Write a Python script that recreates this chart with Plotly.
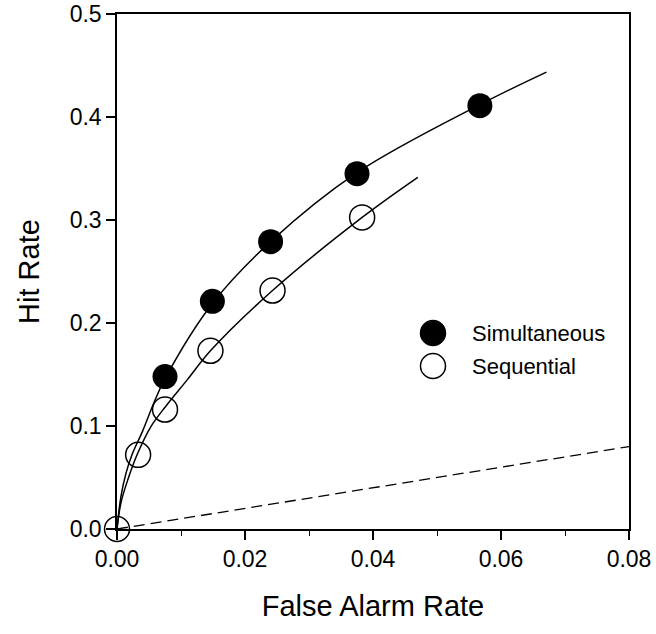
import plotly.graph_objects as go

# Data points
sim_far = [0.0075, 0.0149, 0.0240, 0.0375, 0.0567]
sim_hit = [0.148, 0.221, 0.279, 0.345, 0.411]

seq_far = [0.0, 0.0033, 0.0075, 0.0146, 0.0243, 0.0383]
seq_hit = [0.0, 0.072, 0.116, 0.173, 0.2315, 0.3025]

# Fitted curves
sim_fit_x = [0.0, 0.0006, 0.0014, 0.0024, 0.0040, 0.0058, 0.0075, 0.0149, 0.0240, 0.0375, 0.0567, 0.0671]
sim_fit_y = [0.0, 0.031, 0.054, 0.073, 0.095, 0.123, 0.146, 0.219, 0.279, 0.346, 0.412, 0.4436]

seq_fit_x = [0.0, 0.0006, 0.0017, 0.0032, 0.0053, 0.0076, 0.0110, 0.0146, 0.0243, 0.0383, 0.0470]
seq_fit_y = [0.0, 0.025, 0.048, 0.073, 0.0995, 0.119, 0.145, 0.173, 0.2315, 0.3025, 0.3414]

# Chance line
chance_x = [0.0, 0.08]
chance_y = [0.0, 0.08]

x_ticks = [0.00, 0.02, 0.04, 0.06, 0.08]
y_ticks = [0.0, 0.1, 0.2, 0.3, 0.4, 0.5]

FONT = "Arial, Liberation Sans, sans-serif"

W, H = 656, 634
L, R, T, B = 117, 27, 14, 105
PW, PH = W - L - R, H - T - B

fig = go.Figure()

fig.add_trace(go.Scatter(x=chance_x, y=chance_y, mode="lines",
                         line=dict(color="black", width=1.3, dash="11px,6px"),
                         showlegend=False, hoverinfo="skip"))
fig.add_trace(go.Scatter(x=sim_fit_x, y=sim_fit_y, mode="lines",
                         line=dict(color="black", width=1.5, shape="spline", smoothing=1.0),
                         showlegend=False, hoverinfo="skip"))
fig.add_trace(go.Scatter(x=seq_fit_x, y=seq_fit_y, mode="lines",
                         line=dict(color="black", width=1.5, shape="spline", smoothing=1.0),
                         showlegend=False, hoverinfo="skip"))
fig.add_trace(go.Scatter(x=sim_far, y=sim_hit, mode="markers", name="Simultaneous",
                         marker=dict(symbol="circle", size=25, color="black"),
                         cliponaxis=False, showlegend=False))
fig.add_trace(go.Scatter(x=seq_far, y=seq_hit, mode="markers", name="Sequential",
                         marker=dict(symbol="circle-open", size=25, color="black",
                                     line=dict(width=1.5, color="black")),
                         cliponaxis=False, showlegend=False))

# Legend (drawn manually to match large marker size)
def px_x(p):
    return (p - L) / PW

def px_y(p):
    return (H - B - p) / PH

r = 12.5
for cy, filled in [(333, True), (366, False)]:
    fig.add_shape(type="circle", xref="paper", yref="paper",
                  x0=px_x(433 - r), x1=px_x(433 + r),
                  y0=px_y(cy + r), y1=px_y(cy - r),
                  fillcolor="black" if filled else "rgba(0,0,0,0)",
                  line=dict(color="black", width=1.5))
for cy, label in [(333, "Simultaneous"), (366, "Sequential")]:
    fig.add_annotation(text=label, xref="paper", yref="paper",
                       x=px_x(470), y=px_y(cy), xanchor="left", yanchor="middle",
                       showarrow=False, font=dict(size=22, color="black", family=FONT))

axis_common = dict(showline=True, linecolor="black", linewidth=1.5, mirror=True,
                   ticks="outside", ticklen=9, tickwidth=1.5, tickcolor="black",
                   showgrid=False, zeroline=False,
                   tickfont=dict(size=23, color="black", family=FONT))

fig.update_xaxes(range=[0, 0.08], tickvals=x_ticks, ticktext=[f"{v:.2f}" for v in x_ticks],
                 title=dict(text="False Alarm Rate", standoff=24,
                            font=dict(size=29, color="black", family=FONT)),
                 minor=dict(ticks="outside", ticklen=5, tickwidth=1.2, tickcolor="black", dtick=0.01),
                 **axis_common)
fig.update_yaxes(range=[0, 0.5], tickvals=y_ticks, ticktext=[f"{v:.1f}" for v in y_ticks],
                 title=dict(text="Hit Rate", standoff=22,
                            font=dict(size=29, color="black", family=FONT)),
                 **axis_common)

fig.update_layout(width=W, height=H,
                  margin=dict(l=L, r=R, t=T, b=B, autoexpand=False),
                  plot_bgcolor="white", paper_bgcolor="white",
                  showlegend=False)

fig.write_html("out.html", config={"displayModeBar": False},
               post_script="document.body.style.margin='0';document.body.style.overflow='hidden';")
